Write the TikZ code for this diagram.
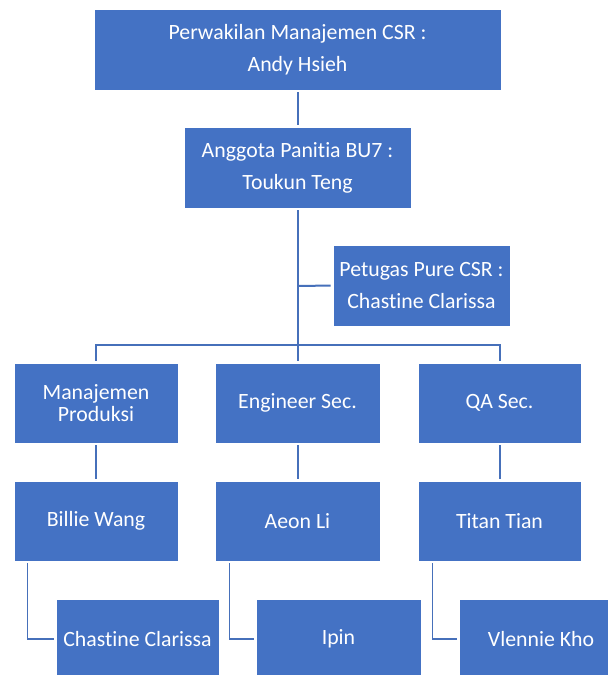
\documentclass[tikz,border=0pt]{standalone}
\usepackage{fontspec}
\setmainfont{Carlito}[Ligatures=NoCommon]
\usetikzlibrary{calc}
\definecolor{boxblue}{RGB}{68,114,196}
\definecolor{lineblue}{RGB}{70,112,186}
\begin{document}
\begin{tikzpicture}[x=1pt,y=-1pt,
  orgbox/.style={rectangle, fill=boxblue, draw=white, line width=0.8pt, text=white,
    inner sep=0pt, align=center, font=\fontsize{21.8}{32}\selectfont},
  link/.style={draw=lineblue, line width=2pt, shorten <=2pt, shorten >=2pt}]
\useasboundingbox (0,0) rectangle (608,675);
\fill[white] (0,0) rectangle (608,675);
\node[orgbox, minimum width=407pt, minimum height=81pt] (top) at (297.5,49.5) {Perwakilan Manajemen CSR :\\Andy Hsieh};
\node[orgbox, minimum width=227pt, minimum height=81pt] (bu7) at (297.5,167.5) {Anggota Panitia BU7 :\\Toukun Teng};
\node[orgbox, minimum width=177pt, minimum height=81pt] (pure) at (421.5,285.5) {Petugas Pure CSR :\\Chastine Clarissa};
\node[orgbox, minimum width=164pt, minimum height=80pt] (mp) at (96,403) {Manajemen\\[-10pt]Produksi};
\node[orgbox, minimum width=165pt, minimum height=80pt] (eng) at (297.5,403) {Engineer Sec.};
\node[orgbox, minimum width=163pt, minimum height=80pt] (qa) at (499.5,403) {QA Sec.};
\node[orgbox, minimum width=164pt, minimum height=80pt] (bw) at (96,521) {Billie Wang};
\node[orgbox, minimum width=165pt, minimum height=80pt] (al) at (297.5,521) {Aeon Li};
\node[orgbox, minimum width=163pt, minimum height=80pt] (tt) at (499.5,521) {Titan Tian};
\node[orgbox, minimum width=163pt, minimum height=80pt] (cc) at (137.5,639) {Chastine Clarissa};
\node[orgbox, minimum width=165pt, minimum height=80pt] (ip) at (338.5,639) {Ipin};
\node[orgbox, minimum width=164pt, minimum height=80pt] (vk) at (541,639) {Vlennie Kho};
\coordinate (bar) at (297.5,345);
\coordinate (branch) at (297.5,286);
\draw[link] (top) -- (bu7);
\draw[link] (bu7) -- (eng);
\draw[link, shorten <=0pt] (branch) -- (pure.west);
\draw[link] (mp.north) |- (bar) -| (qa.north);
\draw[link] (bw) -- (mp);
\draw[link] (al) -- (eng);
\draw[link] (tt) -- (qa);
\draw[link, line width=1.6pt] ($(bw.south west)+(14,0)$) |- (cc.west);
\draw[link, line width=1.6pt] ($(al.south west)+(15,0)$) |- (ip.west);
\draw[link, line width=1.6pt] ($(tt.south west)+(15,0)$) |- (vk.west);
\end{tikzpicture}
\end{document}
